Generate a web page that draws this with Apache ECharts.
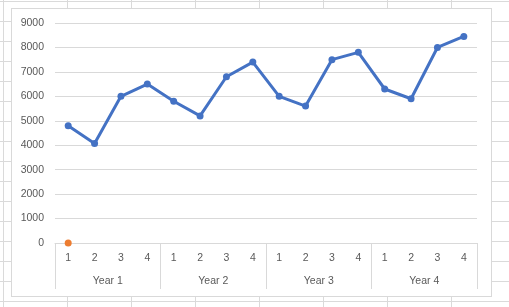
<!DOCTYPE html>
<html>
<head>
<meta charset="utf-8">
<script src="https://cdn.jsdelivr.net/npm/echarts@6/dist/echarts.min.js"></script>
<style>
html,body{margin:0;padding:0;}
#sheet{position:absolute;left:0;top:0;width:509px;height:307px;background-color:#fff;
background-image:linear-gradient(to bottom,#dadada 1px,transparent 1px),linear-gradient(to right,#dadada 1px,transparent 1px);
background-size:100% 20px,64px 100%;background-position:0 1px,3px 0;}
#box{position:absolute;left:11px;top:8px;width:479px;height:287px;background:#fff;border:1px solid #d9d9d9;}
#chart{position:absolute;left:0;top:0;width:509px;height:307px;}
</style>
</head>
<body>
<div id="sheet"></div>
<div id="box"></div>
<div id="chart"></div>
<script>
const quarters = ['1','2','3','4','1','2','3','4','1','2','3','4','1','2','3','4'];
const years = ['Year 1','Year 2','Year 3','Year 4'];
const sales = [4800, 4070, 6000, 6500, 5800, 5200, 6800, 7400, 6000, 5600, 7500, 7800, 6300, 5900, 8000, 8450];
const marker = [0];

const chart = echarts.init(document.getElementById('chart'), null, {renderer:'canvas'});
const txt = {color:'#595959', fontFamily:'Liberation Sans', fontSize:10.5};
chart.setOption({
  backgroundColor:'transparent',
  animation:false,
  grid:{left:55, right:32, top:23, bottom:64},
  xAxis:[{
    type:'category', data:quarters, position:'bottom',
    axisLine:{show:true, lineStyle:{color:'#d9d9d9', width:1}},
    axisTick:{show:false},
    axisLabel:Object.assign({margin:10, interval:0}, txt)
  },{
    type:'category', data:years, position:'bottom', offset:0,
    axisLine:{show:false},
    axisTick:{show:true, alignWithLabel:false, length:46, lineStyle:{color:'#d9d9d9'}},
    axisLabel:Object.assign({margin:33, interval:0}, txt)
  }],
  yAxis:{
    type:'value', min:0, max:9000, interval:1000,
    axisLine:{show:false}, axisTick:{show:false},
    splitLine:{lineStyle:{color:'#d9d9d9', width:1}},
    axisLabel:Object.assign({margin:11, formatter:function(v){return String(v);}}, txt)
  },
  series:[{
    type:'line', data:sales, xAxisIndex:0,
    symbol:'circle', symbolSize:7,
    lineStyle:{color:'#4472C4', width:3},
    itemStyle:{color:'#4472C4'},
    z:3
  },{
    type:'line', data:marker, xAxisIndex:0, clip:false,
    symbol:'circle', symbolSize:7,
    lineStyle:{color:'#ED7D31', width:3},
    itemStyle:{color:'#ED7D31'},
    z:4
  }]
});
</script>
</body>
</html>
